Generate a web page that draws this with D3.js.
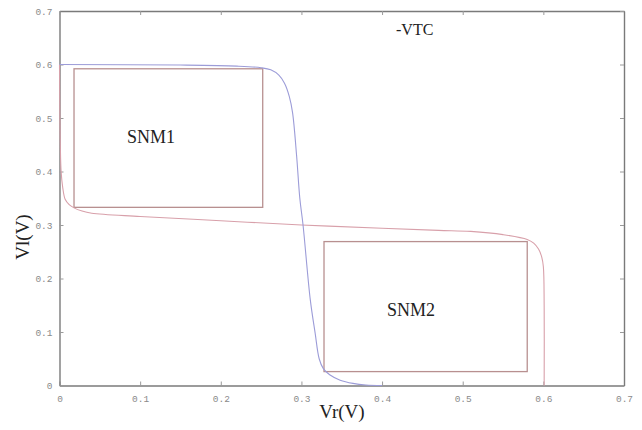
<!DOCTYPE html>
<html>
<head>
<meta charset="utf-8">
<script src="https://cdn.jsdelivr.net/npm/d3@7"></script>
<style>
  body { margin: 0; background: #fff; }
  .tick text { font-family: "Liberation Mono", "DejaVu Sans Mono", monospace; font-size: 9.5px; fill: #8a8a8a; }
  .serif { font-family: "Liberation Serif", "Times New Roman", serif; fill: #222; }
</style>
</head>
<body>
<div id="chartDiv"></div>
<script>
// tick values
var xTicks = [0, 0.1, 0.2, 0.3, 0.4, 0.5, 0.6, 0.7];
var yTicks = [0, 0.1, 0.2, 0.3, 0.4, 0.5, 0.6, 0.7];

// inverter 1: Vl as a function of Vr (blue)
var blueVr = [0, 0.15, 0.22, 0.25, 0.262, 0.272, 0.279, 0.285, 0.289, 0.294, 0.298, 0.302, 0.311, 0.317, 0.322, 0.327, 0.335, 0.348, 0.364, 0.38, 0.4];
var blueVl = [0.6, 0.599, 0.597, 0.594, 0.59, 0.58, 0.565, 0.54, 0.51, 0.43, 0.35, 0.30, 0.16, 0.098, 0.05, 0.032, 0.02, 0.01, 0.004, 0.001, 0];

// inverter 2: mirrored curve (red)
var redVr = [0, 0.0005, 0.001, 0.002, 0.004, 0.007, 0.012, 0.018, 0.028, 0.04, 0.1, 0.2, 0.3, 0.4, 0.47, 0.51, 0.55, 0.58, 0.588, 0.594, 0.598, 0.6, 0.601, 0.601];
var redVl = [0.6, 0.5, 0.45, 0.40, 0.37, 0.348, 0.338, 0.332, 0.326, 0.322, 0.316, 0.308, 0.3, 0.294, 0.29, 0.288, 0.282, 0.273, 0.266, 0.255, 0.24, 0.222, 0.15, 0];

// noise margin boxes [x0, x1, y0, y1]
var snmNames = ["SNM1", "SNM2"];
var snmBoxes = [[0.018, 0.252, 0.333, 0.592], [0.328, 0.580, 0.026, 0.269]];

var width = 642, height = 430;
var margin = {top: 11, right: 18, bottom: 44.5, left: 59.5};

var svg = d3.select("#chartDiv").append("svg")
	.attr("width", width).attr("height", height);

var x = d3.scaleLinear().domain([0, 0.7]).range([margin.left, width - margin.right]);
var y = d3.scaleLinear().domain([0, 0.7]).range([height - margin.bottom, margin.top]);

var fmt = function(d) { return d === 0 ? "0" : d3.format(".1f")(d); };

// axes, ticks pointing inward
var gx = svg.append("g").attr("transform", "translate(0," + y(0) + ")")
	.call(d3.axisBottom(x).tickValues(xTicks).tickFormat(fmt).tickSizeInner(-4).tickSizeOuter(0).tickPadding(8));
var gy = svg.append("g").attr("transform", "translate(" + x(0) + ",0)")
	.call(d3.axisLeft(y).tickValues(yTicks).tickFormat(fmt).tickSizeInner(-4).tickSizeOuter(0).tickPadding(7));
var gt = svg.append("g").attr("transform", "translate(0," + y(0.7) + ")")
	.call(d3.axisTop(x).tickValues(xTicks).tickFormat("").tickSizeInner(-4).tickSizeOuter(0));
var gr = svg.append("g").attr("transform", "translate(" + x(0.7) + ",0)")
	.call(d3.axisRight(y).tickValues(yTicks).tickFormat("").tickSizeInner(-4).tickSizeOuter(0));

svg.selectAll(".domain").attr("stroke", "#7a7a7a").attr("stroke-width", 1.4);
svg.selectAll(".tick line").attr("stroke", "#9a9a9a");
gx.selectAll(".tick text").attr("dy", "0.9em");

// boxes
svg.selectAll("rect.snm").data(snmBoxes).enter().append("rect")
	.attr("class", "snm")
	.attr("x", function(d) { return x(d[0]); })
	.attr("y", function(d) { return y(d[3]); })
	.attr("width", function(d) { return x(d[1]) - x(d[0]); })
	.attr("height", function(d) { return y(d[2]) - y(d[3]); })
	.attr("fill", "none").attr("stroke", "#b89090").attr("stroke-width", 1.3);

// curves
var line = d3.line().x(function(d) { return x(d[0]); }).y(function(d) { return y(d[1]); }).curve(d3.curveMonotoneY);
var lineR = d3.line().x(function(d) { return x(d[0]); }).y(function(d) { return y(d[1]); }).curve(d3.curveCatmullRom);

var redPts = d3.zip(redVr, redVl);
var bluePts = d3.zip(blueVr, blueVl);

svg.append("path").datum(redPts).attr("d", lineR)
	.attr("fill", "none").attr("stroke", "#d8a0aa").attr("stroke-width", 1.1);
svg.append("path").datum(bluePts).attr("d", lineR)
	.attr("fill", "none").attr("stroke", "#9c9cd8").attr("stroke-width", 1.1);

// labels
svg.selectAll("text.snmlab").data(snmBoxes).enter().append("text")
	.attr("class", "serif snmlab")
	.attr("x", function(d, i) { return i === 0 ? 151 : 411; })
	.attr("y", function(d, i) { return i === 0 ? 143 : 316; })
	.attr("text-anchor", "middle").attr("font-size", 18)
	.text(function(d, i) { return snmNames[i]; });

svg.append("text").attr("class", "serif").attr("x", 396).attr("y", 35)
	.attr("font-size", 16).text("-VTC");

svg.append("text").attr("class", "serif").attr("x", 342).attr("y", 418)
	.attr("text-anchor", "middle").attr("font-size", 19).text("Vr(V)");

svg.append("text").attr("class", "serif")
	.attr("transform", "translate(29,237) rotate(-90)")
	.attr("text-anchor", "middle").attr("font-size", 19).text("Vl(V)");
</script>
</body>
</html>
